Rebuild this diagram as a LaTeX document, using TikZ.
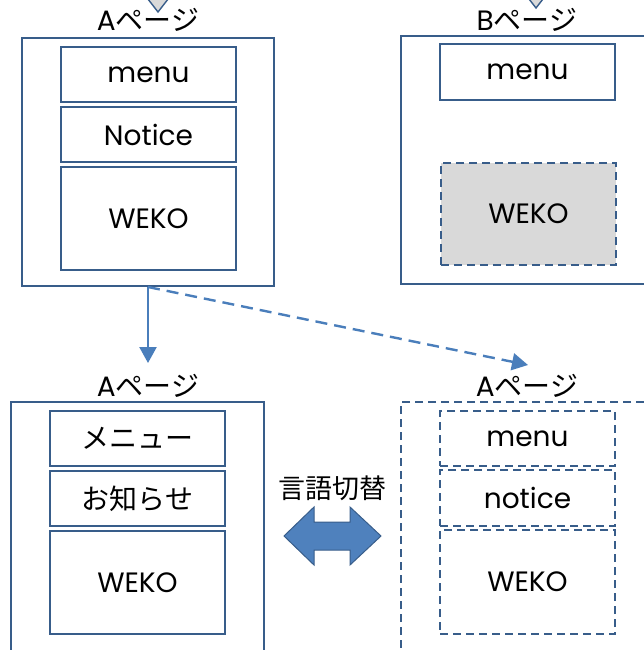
\documentclass[tikz,border=0pt]{standalone}
\usepackage{fontspec}
\setmainfont{Poppins}
\newfontfamily\cjk{Noto Sans CJK JP}
\usetikzlibrary{arrows.meta}
\definecolor{boxblue}{HTML}{385D8A}
\definecolor{arrblue}{HTML}{4A7EBB}
\definecolor{fillblue}{HTML}{4F81BD}
\definecolor{lgray}{HTML}{D9D9D9}
\tikzset{
  outerbox/.style={draw=boxblue, line width=1.8pt, minimum width=#1, minimum height=248pt, inner sep=0pt},
  innerbox/.style={draw=boxblue, line width=1.8pt, minimum width=175pt, minimum height=#1, inner sep=0pt, font=\fontsize{28}{30}\selectfont},
  dashbox/.style={dash pattern=on 8pt off 5pt},
  lbl/.style={font=\fontsize{28}{30}\selectfont, inner sep=0pt},
  conn/.style={draw=arrblue, line width=2.4pt, -{Triangle[length=16pt,width=17pt]}},
  tri/.style={draw=boxblue, fill=lgray, line width=1.4pt},
}
\begin{document}
\begin{tikzpicture}[x=1pt,y=-1pt]
\useasboundingbox (0,0) rectangle (644,650);
% top triangles (cut off)
\draw[tri] (144,-6) -- (172,-6) -- (158,12) -- cycle;
\draw[tri] (522,-10) -- (550,-10) -- (536,8) -- cycle;

% Top A page
\node[lbl] (la1) at (148,20) {A{\cjk ページ}};
\node[outerbox=252pt] (A1) at (148,162) {};
\node[innerbox=55pt] (A1m) at (148.5,74.5) {menu};
\node[innerbox=55pt] (A1n) at (148.5,134.5) {Notice};
\node[innerbox=103pt] (A1w) at (148.5,218.5) {WEKO};

% Top B page
\node[lbl] (lb1) at (527,20) {B{\cjk ページ}};
\node[outerbox=259pt] (B1) at (530.5,160) {};
\node[innerbox=56pt] (B1m) at (527.5,72) {menu};
\node[innerbox=102pt, dashbox, fill=lgray] (B1w) at (528.5,214) {WEKO};

% Bottom left A page (Japanese)
\node[lbl] (la2) at (148,386) {A{\cjk ページ}};
\node[outerbox=253pt, minimum height=258pt] (A2) at (137.5,531) {};
\node[innerbox=55pt] (A2m) at (137.5,438.5) {\cjk メニュー};
\node[innerbox=55pt] (A2n) at (137.5,498.5) {\cjk お知らせ};
\node[innerbox=103pt] (A2w) at (137.5,582.5) {WEKO};

% Bottom right A page (dashed)
\node[lbl] (la3) at (527,386) {A{\cjk ページ}};
\node[outerbox=259pt, minimum height=258pt, dashbox] (A3) at (530.5,531) {};
\node[innerbox=55pt, dashbox] (A3m) at (527.5,438.5) {menu};
\node[innerbox=56pt, dashbox] (A3n) at (527.5,498) {notice};
\node[innerbox=104pt, dashbox] (A3w) at (527.5,582) {WEKO};

% connectors
\coordinate (s1) at (148,287);
\coordinate (e1) at (148,363);
\coordinate (e2) at (528,365);
\draw[conn] (s1) -- (e1);
\draw[conn, dash pattern=on 12pt off 7pt] (s1) -- (e2);

% language switch
\node[font=\cjk\fontsize{27}{29}\selectfont, inner sep=0pt] (lang) at (332,488) {言語切替};
\draw[draw=boxblue, fill=fillblue, line width=1pt]
  (284,536) -- (314,507) -- (314,522) -- (350,522) -- (350,507) -- (381,536)
  -- (350,565) -- (350,550) -- (314,550) -- (314,565) -- cycle;
\end{tikzpicture}
\end{document}
